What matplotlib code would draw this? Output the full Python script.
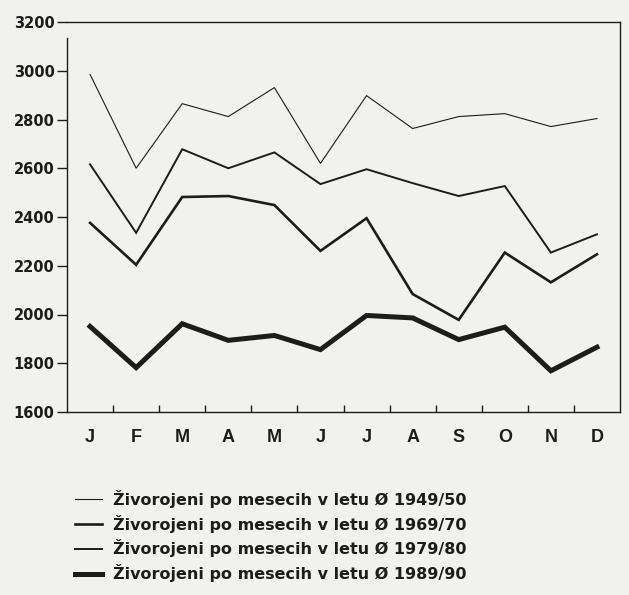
import matplotlib
matplotlib.use("Agg")
import matplotlib.pyplot as plt
from matplotlib.lines import Line2D

months = ["J", "F", "M", "A", "M", "J", "J", "A", "S", "O", "N", "D"]
labels = ["Živorojeni po mesecih v letu Ø 1949/50",
          "Živorojeni po mesecih v letu Ø 1969/70",
          "Živorojeni po mesecih v letu Ø 1979/80",
          "Živorojeni po mesecih v letu Ø 1989/90"]
y1949 = [2985, 2600, 2865, 2812, 2931, 2620, 2898, 2763, 2812, 2824, 2771, 2804]
y1969 = [2376, 2204, 2482, 2486, 2449, 2261, 2395, 2084, 1978, 2254, 2132, 2247]
y1979 = [2616, 2335, 2678, 2600, 2665, 2535, 2596, 2539, 2486, 2527, 2254, 2329]
y1989 = [1951, 1782, 1962, 1894, 1914, 1856, 1996, 1986, 1897, 1948, 1769, 1866]
yticks = [1600, 1800, 2000, 2200, 2400, 2600, 2800, 3000, 3200]

bg = "#f1f1ef"
ink = "#1c1c1c"
plt.rcParams['font.family'] = ['DejaVu Sans']

fig = plt.figure(figsize=(6.29, 5.95), dpi=100, facecolor=bg)
ax = fig.add_axes([67/629, 1-412/595, (620-67)/629, (412-22)/595])
ax.set_facecolor(bg)

x = list(range(12))
series = [(y1949, 0.8), (y1969, 1.9), (y1979, 1.4), (y1989, 3.6)]
for (ys, lw), lab in zip(series, labels):
    ax.plot(x, ys, color=ink, lw=lw, solid_joinstyle='miter', label=lab)

ax.set_xlim(-0.5, 11.5)
ax.set_ylim(1600, 3200)
ax.set_yticks(yticks)
ax.set_yticklabels([str(t) for t in yticks], fontsize=10.5, fontweight='bold', color=ink)
ax.tick_params(axis='y', direction='out', length=7, width=1, color=ink, pad=2)

ax.set_xticks([i + 0.5 for i in range(11)])
ax.set_xticklabels([])
ax.tick_params(axis='x', direction='in', length=5, width=1, color=ink)
for i, m in enumerate(months):
    ax.text(i, 1530, m, ha='center', va='top', fontsize=13, fontweight='bold',
            color=ink, family='Liberation Sans')

for s in ax.spines.values():
    s.set_color(ink)
    s.set_linewidth(1)
ax.spines['left'].set_bounds(1600, 3135)

handles = [Line2D([], [], color=ink, lw=lw) for _, lw in series]
leg = fig.legend(handles, labels, loc='upper left', bbox_to_anchor=(75/629, 1-490/595),
                 frameon=False, fontsize=11.5, handlelength=1.7, handletextpad=0.7,
                 labelspacing=0.42, borderaxespad=0, borderpad=0)
for t in leg.get_texts():
    t.set_color(ink)
    t.set_fontweight('bold')

fig.savefig("out.png", dpi=100, facecolor=bg)
